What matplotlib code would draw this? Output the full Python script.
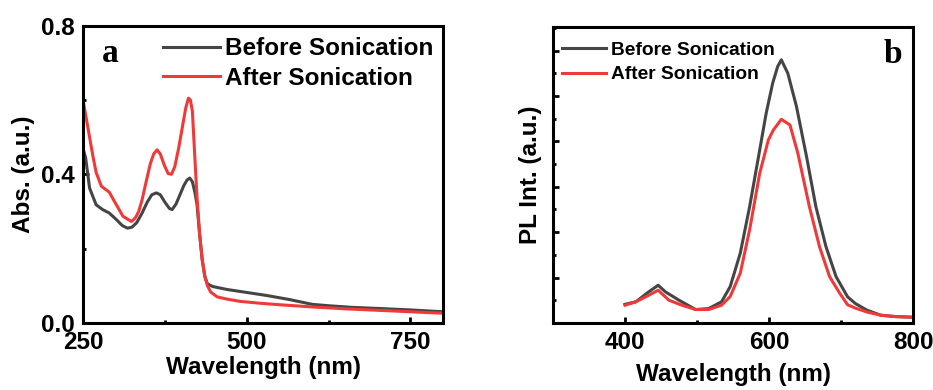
import matplotlib
matplotlib.use("Agg")
import matplotlib.pyplot as plt
from matplotlib.ticker import MultipleLocator, NullFormatter

plt.rcParams['font.family'] = ['Liberation Sans', 'DejaVu Sans']
plt.rcParams['font.weight'] = 'bold'

# ---------- Panel a: absorption ----------
abs_before_wl = [250, 254, 260, 270, 280, 290, 301, 310, 318, 325, 332, 340,
                 348, 355, 362, 368, 375, 382, 386, 392, 398, 404, 409, 413, 417, 421, 424,
                 428, 432, 436, 440, 448, 470, 500, 530, 565, 600, 627, 660, 700, 750, 800]
abs_before = [0.47, 0.444, 0.363, 0.318, 0.305, 0.296, 0.278, 0.262, 0.255, 0.258,
              0.27, 0.295, 0.325, 0.345, 0.35, 0.345, 0.325, 0.308, 0.305, 0.32, 0.345, 0.37,
              0.385, 0.39, 0.38, 0.35, 0.32, 0.24, 0.17, 0.125, 0.105, 0.098, 0.09, 0.082,
              0.074, 0.063, 0.05, 0.046, 0.042, 0.039, 0.035, 0.03]

abs_after_wl = [250, 255, 260, 265, 270, 278, 284, 290, 298, 311, 324, 330, 335,
                340, 347, 353, 358, 363, 368, 374, 380, 385, 390, 396, 402, 407, 411, 414,
                417, 420, 424, 428, 432, 436, 440, 445, 455, 470, 490, 520, 550, 600, 650,
                700, 750, 800]
abs_after = [0.60, 0.55, 0.50, 0.45, 0.405, 0.368, 0.36, 0.352, 0.327, 0.287, 0.273, 0.283, 0.30,
             0.33, 0.385, 0.43, 0.455, 0.466, 0.455, 0.425, 0.402, 0.40, 0.42,
             0.47, 0.53, 0.58, 0.605, 0.60, 0.57, 0.47, 0.34, 0.24, 0.17, 0.125, 0.10, 0.083,
             0.07, 0.064, 0.058, 0.053, 0.049, 0.043, 0.038, 0.034, 0.03, 0.026]

# ---------- Panel b: photoluminescence ----------
pl_before_wl = [400, 415, 433, 446, 456, 475, 498, 516, 534, 546, 560, 573, 587, 596, 605,
                612, 617, 626, 638, 652, 665, 679, 693, 709, 720, 736, 755, 775, 800]
pl_before = [0.82, 0.93, 1.37, 1.66, 1.37, 1.0, 0.59, 0.63, 0.93, 1.6, 3.07, 5.12, 7.62, 9.24,
             10.56, 11.3, 11.59, 11.0, 9.54, 7.33, 5.12, 3.36, 2.04, 1.15, 0.85, 0.56, 0.34,
             0.28, 0.25]

pl_after_wl = [400, 415, 433, 446, 461, 479, 498, 516, 534, 546, 560, 573, 587, 599, 606,
               617, 629, 640, 656, 670, 684, 698, 709, 720, 736, 755, 775, 800]
pl_after = [0.78, 0.93, 1.22, 1.44, 1.0, 0.78, 0.59, 0.59, 0.78, 1.16, 2.19, 4.1, 6.59, 8.06,
            8.5, 8.97, 8.72, 7.47, 5.12, 3.36, 2.04, 1.31, 0.8, 0.65, 0.48, 0.34, 0.28, 0.25]

labels = ["Before Sonication", "After Sonication"]
c_before = "#454545"
c_after = "#f03a3a"

fig = plt.figure(figsize=(9.33, 3.9), dpi=100)
axa = fig.add_axes([0.089, 0.172, 0.386, 0.762])
axb = fig.add_axes([0.5927, 0.172, 0.386, 0.759])

lw = 2.2
fs = 17.5

axa.plot(abs_before_wl, abs_before, color=c_before, lw=lw, label=labels[0])
axa.plot(abs_after_wl, abs_after, color=c_after, lw=lw, label=labels[1])
axa.set_xlim(250, 800)
axa.set_ylim(0, 0.8)
axa.xaxis.set_major_locator(MultipleLocator(250))
axa.xaxis.set_minor_locator(MultipleLocator(125))
axa.yaxis.set_major_locator(MultipleLocator(0.4))
axa.yaxis.set_minor_locator(MultipleLocator(0.2))
axa.set_xlabel("Wavelength (nm)", fontsize=fs, fontweight='bold', labelpad=1)
axa.set_ylabel("Abs. (a.u.)", fontsize=fs, fontweight='bold', labelpad=4)
axa.legend(loc='upper left', bbox_to_anchor=(0.222, 0.962), frameon=False,
           fontsize=fs, handlelength=2.35, handletextpad=0.2, labelspacing=0.28,
           borderpad=0, borderaxespad=0)
axa.text(0.053, 0.879, "a", transform=axa.transAxes, fontsize=24, fontweight='bold',
         family='Liberation Serif', va='baseline', ha='left')

axb.plot(pl_before_wl, pl_before, color=c_before, lw=lw, label=labels[0])
axb.plot(pl_after_wl, pl_after, color=c_after, lw=lw, label=labels[1])
axb.set_xlim(300, 800)
axb.set_ylim(0, 13.04)
axb.xaxis.set_major_locator(MultipleLocator(200))
axb.xaxis.set_minor_locator(MultipleLocator(100))
axb.yaxis.set_major_locator(MultipleLocator(2))
axb.yaxis.set_minor_locator(MultipleLocator(1))
axb.yaxis.set_major_formatter(NullFormatter())
axb.set_xlabel("Wavelength (nm)", fontsize=fs, fontweight='bold', labelpad=6)
axb.set_ylabel("PL Int. (a.u.)", fontsize=fs, fontweight='bold', labelpad=2)
axb.legend(loc='upper left', bbox_to_anchor=(0.025, 0.952), frameon=False,
           fontsize=13.8, handlelength=2.3, handletextpad=0.27, labelspacing=0.38,
           borderpad=0, borderaxespad=0)
axb.text(0.969, 0.878, "b", transform=axb.transAxes, fontsize=24, fontweight='bold',
         family='Liberation Serif', va='baseline', ha='right')

for ax in (axa, axb):
    for s in ax.spines.values():
        s.set_linewidth(2.2)
    ax.tick_params(which='major', direction='in', length=4, width=2, labelsize=fs, pad=6)
    ax.tick_params(which='minor', direction='in', length=2.5, width=2)
    for lab in ax.get_xticklabels() + ax.get_yticklabels():
        lab.set_fontweight('bold')

fig.savefig("out.png", dpi=100)
